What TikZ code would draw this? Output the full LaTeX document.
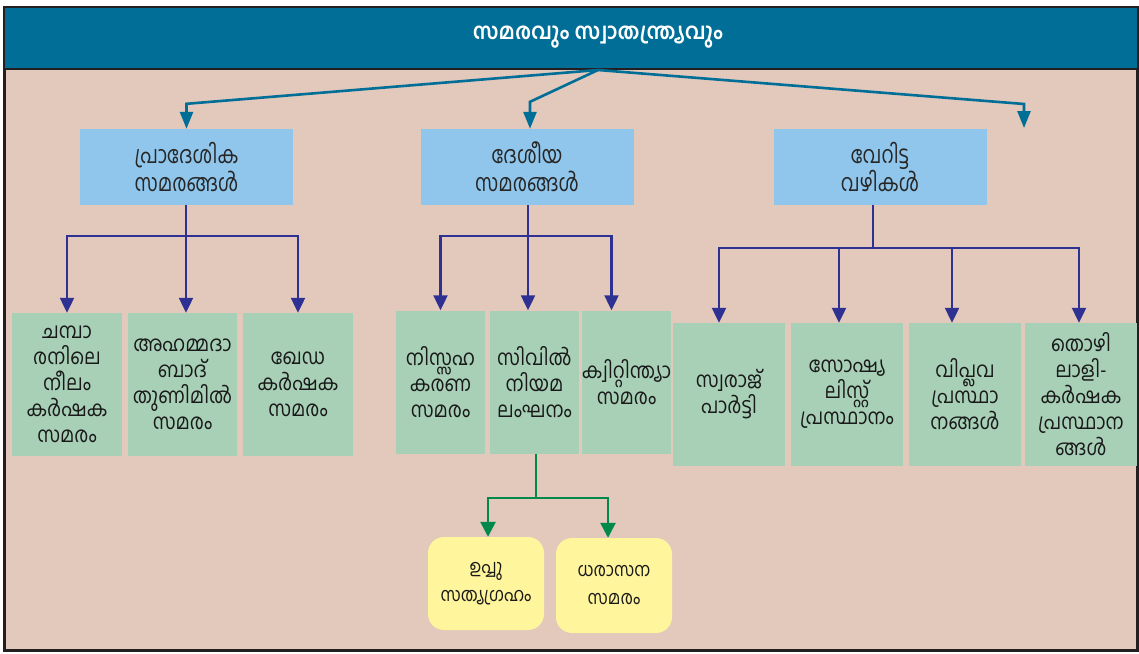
\documentclass[tikz,border=0pt]{standalone}
\usepackage{fontspec}
\newfontfamily\ml[Script=Malayalam]{Hind Kochi}
\newfontfamily\mlg[Script=Malayalam,FakeStretch=0.88]{Hind Kochi}
\newfontfamily\mlb[Script=Malayalam,FakeStretch=0.80]{Hind Kochi}
\newfontfamily\mlt[Script=Malayalam,FakeStretch=0.93]{Hind Kochi}
\usetikzlibrary{arrows.meta}
\definecolor{bgtan}{HTML}{E2C9BB}
\definecolor{barteal}{HTML}{006E97}
\definecolor{lblue}{HTML}{90C6EB}
\definecolor{lgreen}{HTML}{A8D0B7}
\definecolor{navy}{HTML}{2E3192}
\definecolor{dgreen}{HTML}{00894B}
\definecolor{lyellow}{HTML}{FFF59C}
\definecolor{framec}{HTML}{231F20}
\begin{document}
\begin{tikzpicture}[x=1pt,y=-1pt,
 bluebox/.style={fill=lblue, minimum width=213pt, minimum height=76pt, inner sep=0pt, align=center, font=\mlb\fontsize{24}{28}\selectfont, text=black!85},
 greenbox/.style={fill=lgreen, inner sep=0pt, align=center, font=\mlg\fontsize{21.5}{26}\selectfont, text=black!90},
 yellowbox/.style={fill=lyellow, rounded corners=16pt, inner sep=0pt, align=center, font=\mlg\fontsize{19}{28}\selectfont, text=black!90},
 tealline/.style={draw=barteal, line width=2.6pt},
 tealarrow/.style={tealline, -{Triangle[width=13pt,length=17pt]}},
 navyline/.style={draw=navy, line width=2.2pt},
 navyarrow/.style={navyline, -{Triangle[width=14pt,length=15pt]}},
 greenline/.style={draw=dgreen, line width=2.6pt},
 greenarrow/.style={greenline, -{Triangle[width=15pt,length=15pt]}}
]
\useasboundingbox (0,0) rectangle (1139,653);
% frame and title bar
\node[draw=framec, line width=2pt, fill=bgtan, minimum width=1132pt, minimum height=642pt, inner sep=0pt] (frame) at (571,329) {};
\node[fill=barteal, minimum width=1132pt, minimum height=61pt, inner sep=0pt] (bar) at (571,38.5) {};
\draw[framec, line width=2.4pt] (bar.south west) -- (bar.south east);
\draw[framec, line width=2pt] (frame.north west) rectangle (frame.south east);
\node[text=white, font=\mlt\bfseries\fontsize{22.5}{28}\selectfont] (title) at (598,37) {സമരവും സ്വാതന്ത്ര്യവും};
\coordinate (src) at (598,70);
% blue boxes
\node[bluebox] (b1) at (186.5,167) {പ്രാദേശിക\\സമരങ്ങൾ};
\node[bluebox] (b2) at (527,167) {ദേശീയ\\സമരങ്ങൾ};
\node[bluebox] (b3) at (880,167) {വേറിട്ട\\വഴികൾ};
\coordinate (free3) at (1024,128);
% teal connectors
\draw[tealarrow] (src) -- ([yshift=25pt]b1.north) -- (b1.north);
\draw[tealarrow] (src) -- ([xshift=3pt,yshift=27pt]b2.north) -- ([xshift=3pt]b2.north);
\draw[tealarrow] (src) -- ([yshift=24pt]free3) -- (free3);
% green boxes row 1
\node[greenbox, minimum width=110pt, minimum height=143pt] (g1) at (67,384.5) {ചമ്പാ\\രനിലെ\\നീലം\\കർഷക\\സമരം};
\node[greenbox, minimum width=109pt, minimum height=143pt] (g2) at (182.5,384.5) {അഹമ്മദാ\\ബാദ്\\തുണിമിൽ\\സമരം};
\node[greenbox, minimum width=110pt, minimum height=143pt] (g3) at (298,384.5) {ഖേഡ\\കർഷക\\സമരം};
\node[greenbox, minimum width=89pt, minimum height=143pt] (g4) at (440.5,382) {നിസ്സഹ\\കരണ\\സമരം};
\node[greenbox, minimum width=89pt, minimum height=143pt] (g5) at (534.5,382) {സിവിൽ\\നിയമ\\ലംഘനം};
\node[greenbox, minimum width=89pt, minimum height=143pt] (g6) at (626.5,382) {ക്വിറ്റിന്ത്യാ\\സമരം};
\node[greenbox, minimum width=112pt, minimum height=143pt] (g7) at (729,394.5) {സ്വരാജ്\\പാർട്ടി};
\node[greenbox, minimum width=112pt, minimum height=143pt] (g8) at (847,394.5) {സോഷ്യ\\ലിസ്റ്റ്\\പ്രസ്ഥാനം};
\node[greenbox, minimum width=112pt, minimum height=143pt] (g9) at (965,394.5) {വിപ്ലവ\\പ്രസ്ഥാ\\നങ്ങൾ};
\node[greenbox, minimum width=112pt, minimum height=143pt] (g10) at (1081,394.5) {തൊഴി\\ലാളി-\\കർഷക\\പ്രസ്ഥാന\\ങ്ങൾ};
% navy connectors
\coordinate (j1) at (186,236);
\draw[navyline] (b1.south -| j1) -- (j1);
\draw[navyarrow] (j1) -| (g1.north);
\draw[navyarrow] (j1) -- (j1 |- g2.north);
\draw[navyarrow] (j1) -| (g3.north);
\coordinate (j2) at (528,236);
\draw[navyline] (b2.south -| j2) -- (j2);
\draw[navyarrow] (j2) -| (g4.north);
\draw[navyarrow] (j2) -- (j2 |- g5.north);
\draw[navyarrow] (j2) -| ([xshift=-15pt]g6.north);
\coordinate (j3) at (873,248);
\draw[navyline] (b3.south -| j3) -- (j3);
\draw[navyarrow] (j3) -| ([xshift=-10pt]g7.north);
\draw[navyarrow] (j3) -| ([xshift=-8pt]g8.north);
\draw[navyarrow] (j3) -| ([xshift=-13pt]g9.north);
\draw[navyarrow] (j3) -| ([xshift=-2pt]g10.north);
% yellow boxes
\node[yellowbox, minimum width=116pt, minimum height=93pt] (y1) at (486,583.5) {ഉപ്പു\\സത്യഗ്രഹം};
\node[yellowbox, minimum width=116pt, minimum height=95pt] (y2) at (614,585.5) {ധരാസന\\സമരം};
% green connectors
\coordinate (j4) at (536,498);
\draw[greenline] ([xshift=1.5pt]g5.south) -- (j4);
\draw[greenarrow] (j4) -| ([xshift=2pt]y1.north);
\draw[greenarrow] (j4) -| ([xshift=-6pt]y2.north);
\end{tikzpicture}
\end{document}
